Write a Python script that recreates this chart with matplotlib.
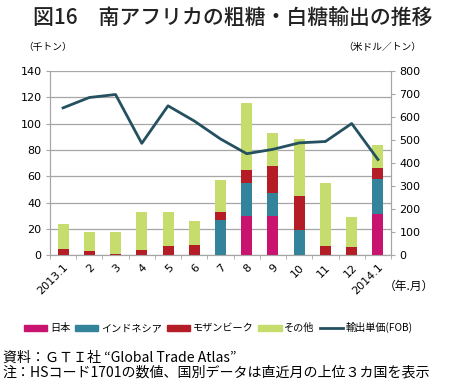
import matplotlib
matplotlib.use("Agg")
import matplotlib.pyplot as plt
import matplotlib.patches as patches
from matplotlib.lines import Line2D
import numpy as np

plt.rcParams['font.family'] = ['Noto Sans CJK JP', 'DejaVu Sans']

months = ["2013.1", "2", "3", "4", "5", "6", "7", "8", "9", "10", "11", "12", "2014.1"]
# thousand tons
japan = [0, 0, 0, 0, 0, 0, 0, 30, 30, 0, 0, 0, 31]
indonesia = [0, 0, 0, 0, 0, 0, 27, 25, 17, 19, 0, 0, 27]
mozambique = [5, 3, 1, 4, 7, 8, 6, 10, 21, 26, 7, 6, 8]
others = [19, 15, 17, 29, 26, 18, 24, 51, 25, 43, 48, 23, 18]
# USD / ton
unit_price = [640, 685, 698, 486, 649, 583, 505, 441, 460, 488, 494, 572, 416]

series = [
    ("日本", japan, "#C8136F"),
    ("インドネシア", indonesia, "#33849A"),
    ("モザンビーク", mozambique, "#B51D26"),
    ("その他", others, "#C6DC6C"),
]
line_color = "#24505F"
grid_color = "#A6A6A6"

fig = plt.figure(figsize=(4.5, 3.88), dpi=100)
ax = fig.add_axes([0.111, 0.342, 0.758, 0.475])

x = np.arange(len(months))
bottom = np.zeros(len(months))
for name, vals, col in series:
    ax.bar(x, vals, width=0.42, bottom=bottom, color=col, edgecolor="none", zorder=3)
    bottom += np.array(vals)

ax.set_xlim(-0.5, len(months) - 0.5)
ax.set_ylim(0, 140)
ax.set_yticks(range(0, 141, 20))
ax.yaxis.grid(True, color=grid_color, linewidth=0.9, zorder=0)
ax.set_axisbelow(True)
ax.set_xticks(x)
ax.set_xticklabels(months, rotation=45, ha="right", rotation_mode="anchor", fontsize=8,
                   family="DejaVu Sans")
ax.tick_params(axis="x", length=0, pad=5)
ax.set_xticks(np.arange(-0.5, len(months), 1), minor=True)
ax.tick_params(axis="x", which="minor", length=3, color=grid_color)
ax.tick_params(axis="y", labelsize=8, length=3, color=grid_color, pad=3)
for lbl in ax.get_yticklabels():
    lbl.set_family("DejaVu Sans")
ax.spines["top"].set_visible(False)
for s in ["left", "right", "bottom"]:
    ax.spines[s].set_color(grid_color)

ax2 = ax.twinx()
ax2.plot(x, unit_price, color=line_color, linewidth=2.0, zorder=5)
ax2.set_ylim(0, 800)
ax2.set_yticks(range(0, 801, 100))
ax2.tick_params(axis="y", labelsize=8, length=3, color=grid_color, pad=3)
for lbl in ax2.get_yticklabels():
    lbl.set_family("DejaVu Sans")
ax2.spines["top"].set_visible(False)
for s in ["left", "right", "bottom"]:
    ax2.spines[s].set_color(grid_color)

fig.text(0.517, 0.955, "図16　南アフリカの粗糖・白糖輸出の推移", ha="center", va="center",
         fontsize=15, fontweight="medium", color="#222222")
fig.text(0.052, 0.88, "（千トン）", ha="left", va="center", fontsize=7)
fig.text(0.762, 0.88, "（米ドル／トン）", ha="left", va="center", fontsize=7)
fig.text(0.852, 0.262, "（年.月）", ha="left", va="center", fontsize=8.5)

handles = [patches.Patch(color=c, label=n) for n, _, c in series]
handles.append(Line2D([0], [0], color=line_color, linewidth=2, label="輸出単価(FOB)"))
fig.legend(handles=handles, loc="center", bbox_to_anchor=(0.485, 0.155), ncol=5,
           frameon=False, fontsize=7.3, handlelength=2.3, handleheight=0.55,
           columnspacing=0.5, handletextpad=0.25)

fig.text(0.006, 0.078, "資料：ＧＴＩ社 “Global Trade Atlas”", ha="left", va="center", fontsize=10.1)
fig.text(0.006, 0.040, "注：HSコード1701の数値、国別データは直近月の上位３カ国を表示",
         ha="left", va="center", fontsize=10.1)

fig.savefig("out.png", dpi=100)
